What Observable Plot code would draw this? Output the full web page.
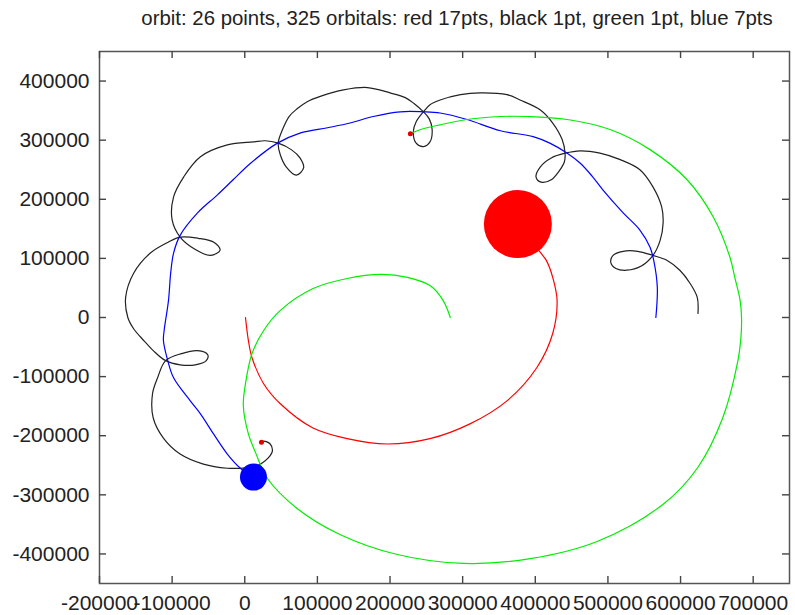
<!DOCTYPE html>
<html>
<head>
<meta charset="utf-8">
<script src="https://cdn.jsdelivr.net/npm/d3@7"></script>
<script src="https://cdn.jsdelivr.net/npm/@observablehq/plot@0.6"></script>
<style>
  body { margin: 0; background: #fff; font-family: "Liberation Sans", Arial, sans-serif; }
  #title { position: relative; width: 795px; height: 36px; }
  #title span { position: absolute; left: 457px; top: 7px; transform: translateX(-50%);
    white-space: nowrap; font-size: 20.4px; color: #222; }
</style>
</head>
<body>
<div id="title"><span>orbit: 26 points, 325 orbitals: red 17pts, black 1pt, green 1pt, blue 7pts</span></div>
<div id="chart"></div>
<script>
// Tick values and extents for both axes
const xTicks = [-200000, -100000, 0, 100000, 200000, 300000, 400000, 500000, 600000, 700000];
const yTicks = [-400000, -300000, -200000, -100000, 0, 100000, 200000, 300000, 400000];
const xDomain = [-200000, 750000];
const yDomain = [-450000, 450000];

// Red body path (17pt marker at its last position)
const redOrbit = [
  [1000, 0], [5000, -39000], [10000, -68000], [26000, -112000], [49000, -146000],
  [94000, -187000], [141000, -205000], [196000, -214000], [255000, -205000],
  [310000, -180000], [361000, -141000], [402000, -85000], [424000, -27000],
  [430000, 29000], [424000, 68000], [415000, 97000], [407000, 110000], [376000, 158000]
];

// Green body path (1pt marker at its last position)
const greenOrbit = [
  [283000, 0], [273000, 29000], [255000, 54000], [224000, 68000], [187000, 73000],
  [141000, 66000], [94000, 49000], [49000, 12000], [26000, -22000], [10000, -61000],
  [1000, -112000], [-2000, -149000], [5000, -197000], [15000, -229000], [31000, -272000],
  [72000, -323000], [131000, -367000], [210000, -401000], [301000, -416000],
  [393000, -408000], [485000, -379000], [576000, -316000], [623000, -255000],
  [658000, -170000], [679000, -73000], [683000, -36000], [684000, -2000], [682000, 29000],
  [675000, 66000], [668000, 102000], [645000, 170000], [609000, 233000], [558000, 284000],
  [503000, 318000], [444000, 335000], [389000, 340000], [352000, 340000], [306000, 335000],
  [269000, 326000], [242000, 318000], [228000, 311000]
];

// Blue body path (7pt marker at its last position)
const blueOrbit = [
  [566000, 0], [568000, 51000], [563000, 97000], [558000, 119000], [544000, 148000],
  [521000, 177000], [493000, 216000], [479000, 238000], [462000, 261000],
  [444000, 278000], [420000, 295000], [397000, 306000], [352000, 316000],
  [306000, 335000], [269000, 346000], [246000, 348000], [214000, 348000],
  [177000, 340000], [145000, 329000], [114000, 321000], [76000, 312000],
  [45000, 295000], [8000, 261000], [-16000, 233000], [-38000, 207000],
  [-65000, 177000], [-89000, 139000], [-98000, 109000], [-102000, 75000],
  [-105000, 29000], [-111000, -22000], [-112000, -39000], [-106000, -73000],
  [-98000, -102000], [-75000, -141000], [-61000, -163000], [-43000, -197000],
  [-24000, -231000], [-6000, -255000], [12000, -270000]
];

// Black body path: a moon looping around the blue body (1pt marker at its last position)
const blackOrbit = [
  [624000, 7000], [623000, 34000], [613000, 58000], [599000, 80000], [581000, 97000],
  [562000, 105000], [541000, 112000], [521000, 112000], [507000, 105000], [504000, 93000],
  [511000, 83000], [526000, 80000], [546000, 87000], [562000, 105000], [572000, 131000],
  [576000, 160000], [574000, 187000], [562000, 221000], [544000, 250000], [517000, 267000],
  [489000, 278000], [462000, 282000], [441000, 278000], [422000, 270000], [407000, 255000],
  [401000, 238000], [408000, 229000], [422000, 233000], [433000, 248000], [440000, 263000],
  [441000, 278000], [437000, 301000], [424000, 329000], [407000, 351000], [379000, 368000],
  [361000, 377000], [324000, 380000], [297000, 377000], [269000, 368000], [255000, 360000],
  [246000, 348000], [236000, 331000], [232000, 314000], [236000, 295000], [246000, 289000],
  [255000, 297000], [258000, 318000], [254000, 336000], [246000, 348000], [233000, 362000],
  [221000, 372000], [200000, 380000], [169000, 389000], [136000, 385000], [104000, 374000],
  [86000, 365000], [72000, 353000], [61000, 340000], [52000, 318000], [46000, 295000],
  [49000, 275000], [57000, 255000], [71000, 241000], [81000, 253000], [76000, 270000],
  [64000, 284000], [46000, 295000], [28000, 299000], [12000, 297000], [-24000, 292000],
  [-61000, 272000], [-84000, 238000], [-98000, 204000], [-100000, 165000], [-89000, 136000],
  [-68000, 115000], [-47000, 105000], [-34000, 114000], [-42000, 127000], [-64000, 134000],
  [-89000, 136000], [-106000, 127000], [-130000, 109000], [-153000, 75000], [-164000, 34000],
  [-161000, 0], [-153000, -19000], [-139000, -39000], [-126000, -56000], [-109000, -73000],
  [-89000, -80000], [-68000, -80000], [-53000, -73000], [-51000, -63000], [-65000, -56000],
  [-87000, -61000], [-109000, -73000], [-120000, -102000], [-127000, -129000],
  [-126000, -170000], [-112000, -204000], [-89000, -231000], [-57000, -248000],
  [-24000, -255000], [-6000, -255000], [12000, -253000], [24000, -246000], [32000, -238000],
  [38000, -226000], [35000, -214000], [26000, -209000], [23000, -211000]
];

const last = a => a[a.length - 1];
const px = d => d[0], py = d => d[1];
const lineOpts = {x: px, y: py, strokeWidth: 1.2, curve: "catmull-rom"};

// layout
const W = 795, H = 579;
const M = {left: 99, right: 6, top: 15, bottom: 32};
const frameW = W - M.left - M.right, frameH = H - M.top - M.bottom;
const tickLen = 7;
const tickStyle = {stroke: "#444", strokeWidth: 1.4};

const chart = Plot.plot({
  width: W,
  height: H,
  marginLeft: M.left,
  marginRight: M.right,
  marginTop: M.top,
  marginBottom: M.bottom,
  style: {fontFamily: "'Liberation Sans', Arial, sans-serif", fontSize: "21px", color: "#222", background: "#fff"},
  x: {domain: xDomain},
  y: {domain: yDomain},
  marks: [
    Plot.line(redOrbit, {...lineOpts, stroke: "#ff0000"}),
    Plot.line(blackOrbit, {...lineOpts, stroke: "#222"}),
    Plot.line(blueOrbit, {...lineOpts, stroke: "#0000ff"}),
    Plot.line(greenOrbit, {...lineOpts, stroke: "#00ee00"}),
    Plot.dot([last(redOrbit)], {x: px, y: py, r: 34, fill: "#ff0000"}),
    Plot.dot([last(blueOrbit)], {x: px, y: py, r: 13.5, fill: "#0000ff"}),
    Plot.dot([last(greenOrbit), last(blackOrbit)], {x: px, y: py, r: 2.5, fill: "#e00000"}),
    Plot.frame({stroke: "#555", strokeWidth: 1.5}),
    Plot.axisX(xTicks, {anchor: "bottom", tickSize: 0, tickPadding: 12, tickFormat: d => String(d), fontSize: 21}),
    Plot.axisY(yTicks, {anchor: "left", tickSize: 0, tickPadding: 10, tickFormat: d => String(d), fontSize: 21}),
    // inward tick marks on all four sides of the frame
    Plot.ruleX(xTicks, {x: d => d, insetTop: frameH - tickLen, ...tickStyle}),
    Plot.ruleX(xTicks, {x: d => d, insetBottom: frameH - tickLen, ...tickStyle}),
    Plot.ruleY(yTicks, {y: d => d, insetRight: frameW - tickLen, ...tickStyle}),
    Plot.ruleY(yTicks, {y: d => d, insetLeft: frameW - tickLen, ...tickStyle})
  ]
});
document.getElementById("chart").appendChild(chart);
</script>
</body>
</html>
